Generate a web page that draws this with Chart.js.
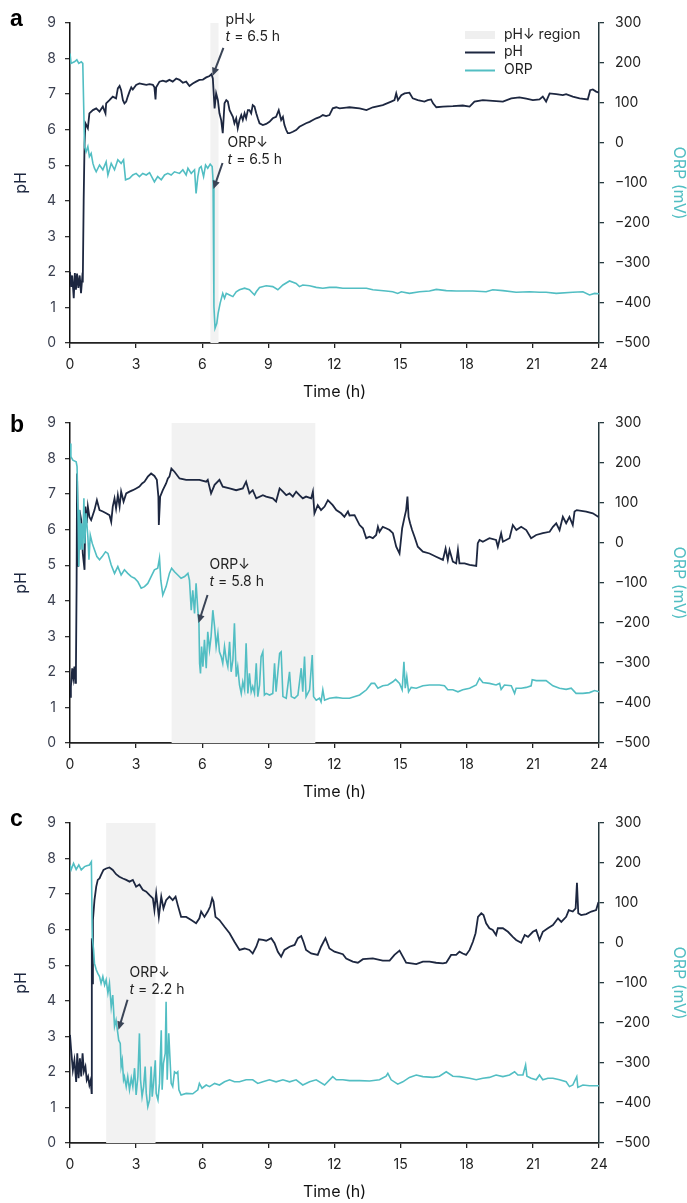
<!DOCTYPE html>
<html>
<head>
<meta charset="utf-8">
<script src="https://cdn.jsdelivr.net/npm/chart.js@4.4.0/dist/chart.umd.min.js"></script>
<style>
    body { margin: 0; background: #fff; width: 687px; height: 1203px; position: relative; }
    canvas { position: absolute; left: 0; }
</style>
</head>
<body>
<canvas id="panel-a" width="687" height="400" style="top:0"></canvas>
<canvas id="panel-b" width="687" height="400" style="top:400px"></canvas>
<canvas id="panel-c" width="687" height="400" style="top:800px"></canvas>
<script>
// [time (h), value] pairs
const aPh = [[0,2.0],[0.05,1.58],[0.1,1.9],[0.17,1.26],[0.22,1.97],[0.27,1.5],[0.32,1.95],[0.38,1.55],[0.44,1.9],[0.5,1.4],[0.55,1.8],[0.58,1.7],[0.62,4.0],[0.66,5.6],[0.7,6.18],[0.81,6.04],[0.88,6.46],[1.04,6.55],[1.19,6.6],[1.34,6.51],[1.49,6.65],[1.61,6.46],[1.64,6.74],[1.79,6.83],[1.94,6.93],[2.09,6.88],[2.17,7.16],[2.25,7.23],[2.32,7.11],[2.4,6.83],[2.47,6.74],[2.55,6.79],[2.62,6.93],[2.7,7.07],[2.78,7.19],[2.85,7.13],[3.0,7.26],[3.15,7.3],[3.3,7.28],[3.46,7.26],[3.61,7.28],[3.76,7.26],[3.83,7.19],[3.88,6.85],[3.91,7.19],[4.06,7.35],[4.21,7.38],[4.36,7.35],[4.51,7.4],[4.66,7.35],[4.82,7.44],[4.97,7.4],[5.12,7.32],[5.27,7.35],[5.42,7.23],[5.57,7.3],[5.72,7.35],[5.87,7.4],[6.03,7.41],[6.18,7.47],[6.33,7.51],[6.42,7.56],[6.48,7.44],[6.56,6.6],[6.63,7.02],[6.71,6.83],[6.78,6.46],[6.86,6.27],[6.93,5.9],[7.01,6.74],[7.09,6.83],[7.16,6.79],[7.24,6.55],[7.39,6.36],[7.46,6.18],[7.54,6.32],[7.61,6.04],[7.69,6.27],[7.77,6.41],[7.84,6.27],[7.92,6.46],[7.99,6.32],[8.07,6.55],[8.14,6.55],[8.22,6.46],[8.29,6.69],[8.37,6.65],[8.45,6.46],[8.52,6.32],[8.6,6.18],[8.75,6.13],[8.9,6.16],[9.05,6.22],[9.2,6.32],[9.35,6.36],[9.47,6.55],[9.58,6.27],[9.66,6.36],[9.73,6.13],[9.81,5.99],[9.88,5.9],[9.96,5.9],[10.11,5.94],[10.26,5.99],[10.41,6.08],[10.56,6.13],[10.71,6.18],[10.87,6.22],[11.02,6.27],[11.17,6.32],[11.32,6.35],[11.47,6.41],[11.62,6.38],[11.77,6.41],[11.92,6.6],[12.08,6.63],[12.23,6.6],[12.53,6.62],[12.68,6.63],[13.14,6.6],[13.45,6.55],[13.74,6.63],[14.19,6.69],[14.57,6.79],[14.72,6.83],[14.8,7.02],[14.88,6.83],[15.03,6.97],[15.18,7.02],[15.4,7.04],[15.55,6.88],[15.78,6.83],[16.08,6.79],[16.23,6.83],[16.38,6.85],[16.47,6.74],[16.62,6.63],[16.92,6.65],[17.37,6.66],[17.82,6.68],[18.13,6.65],[18.35,6.79],[18.73,6.83],[19.18,6.81],[19.64,6.79],[20.02,6.88],[20.39,6.91],[20.7,6.87],[21.0,6.83],[21.3,6.85],[21.45,6.93],[21.6,6.79],[21.76,7.02],[22.06,7.0],[22.36,6.97],[22.51,7.0],[22.81,6.93],[23.12,6.88],[23.49,6.85],[23.6,7.11],[23.72,7.13],[23.87,7.07],[24.0,7.04]];

const aOrp = [[0,224],[0.05,199],[0.2,203],[0.31,208],[0.4,199],[0.51,203],[0.58,199],[0.66,-9],[0.73,-22],[0.81,-9],[0.88,-34],[0.96,-26],[1.04,-51],[1.11,-63],[1.19,-72],[1.34,-55],[1.49,-67],[1.64,-47],[1.72,-80],[1.87,-51],[2.02,-67],[2.17,-42],[2.32,-51],[2.43,-42],[2.52,-92],[2.7,-88],[2.85,-80],[3.0,-76],[3.15,-84],[3.3,-76],[3.46,-80],[3.61,-74],[3.83,-97],[3.98,-84],[4.14,-92],[4.29,-80],[4.44,-76],[4.59,-80],[4.74,-72],[4.97,-76],[5.12,-67],[5.27,-80],[5.35,-63],[5.5,-76],[5.65,-67],[5.72,-126],[5.8,-84],[5.87,-63],[5.95,-59],[6.06,-84],[6.15,-55],[6.25,-63],[6.36,-53],[6.45,-59],[6.49,-92],[6.53,-409],[6.58,-463],[6.66,-451],[6.72,-426],[6.81,-401],[6.93,-376],[7.01,-388],[7.09,-376],[7.24,-380],[7.39,-384],[7.54,-372],[7.69,-367],[7.92,-363],[8.14,-367],[8.37,-380],[8.45,-372],[8.6,-361],[8.9,-357],[9.2,-359],[9.43,-367],[9.66,-355],[9.96,-345],[10.26,-351],[10.41,-359],[10.56,-355],[10.87,-357],[11.17,-361],[11.47,-363],[11.77,-361],[12.08,-361],[12.38,-363],[12.68,-363],[13.45,-363],[13.74,-367],[14.34,-370],[14.64,-372],[14.87,-376],[15.03,-372],[15.4,-376],[15.86,-372],[16.31,-370],[16.62,-366],[17.07,-369],[17.52,-370],[18.28,-370],[18.88,-372],[19.18,-367],[19.64,-369],[20.24,-373],[20.85,-372],[21.3,-373],[21.6,-373],[22.06,-376],[22.81,-373],[23.27,-372],[23.57,-380],[23.8,-376],[24.0,-377]];

const bPh = [[0,1.3],[0.04,1.58],[0.1,2.1],[0.15,1.83],[0.2,2.15],[0.24,1.69],[0.27,2.1],[0.3,4.5],[0.32,7.58],[0.37,4.96],[0.43,6.55],[0.51,6.27],[0.58,5.33],[0.66,4.87],[0.7,6.65],[0.76,6.18],[0.81,6.65],[0.88,6.36],[0.96,6.27],[1.11,6.55],[1.22,6.83],[1.34,6.55],[1.49,6.51],[1.64,6.46],[1.79,6.41],[1.87,6.22],[1.94,6.65],[2.02,6.88],[2.09,6.6],[2.17,6.97],[2.25,6.65],[2.32,7.07],[2.43,6.79],[2.55,7.02],[2.7,7.07],[2.85,7.11],[3.0,7.16],[3.15,7.21],[3.27,7.3],[3.38,7.35],[3.53,7.49],[3.68,7.58],[3.83,7.51],[3.94,7.4],[4.01,6.93],[4.03,6.13],[4.09,6.93],[4.21,7.11],[4.36,7.3],[4.44,7.44],[4.51,7.49],[4.6,7.72],[4.74,7.63],[4.97,7.44],[5.27,7.4],[5.57,7.4],[5.87,7.4],[6.18,7.35],[6.25,7.4],[6.4,7.02],[6.56,7.26],[6.78,7.4],[6.93,7.21],[7.24,7.16],[7.54,7.11],[7.84,7.16],[7.99,7.35],[8.14,7.02],[8.29,7.11],[8.45,6.88],[8.75,6.97],[8.9,6.93],[9.2,6.88],[9.35,6.79],[9.51,7.16],[9.66,7.07],[9.81,6.97],[9.96,7.02],[10.11,6.93],[10.26,7.07],[10.41,6.97],[10.56,6.88],[10.71,6.93],[10.94,6.88],[11.02,7.07],[11.09,6.46],[11.24,6.69],[11.39,6.55],[11.55,6.65],[11.7,6.83],[11.92,6.69],[12.08,6.55],[12.3,6.46],[12.45,6.36],[12.61,6.51],[12.68,6.4],[12.91,6.41],[13.14,6.13],[13.29,6.04],[13.44,5.76],[13.59,5.8],[13.74,5.76],[13.89,5.85],[13.97,6.08],[14.04,5.94],[14.19,6.08],[14.34,6.04],[14.5,5.99],[14.65,5.9],[14.8,5.52],[14.95,5.33],[15.07,6.04],[15.18,6.36],[15.25,6.55],[15.31,6.93],[15.36,6.36],[15.43,6.18],[15.52,5.99],[15.63,5.8],[15.78,5.52],[16.01,5.38],[16.31,5.33],[16.61,5.24],[16.92,5.15],[17.04,5.47],[17.14,5.15],[17.22,5.43],[17.37,5.1],[17.52,5.05],[17.6,5.43],[17.67,5.05],[17.9,5.05],[18.13,5.01],[18.43,4.98],[18.5,5.62],[18.58,5.71],[18.73,5.66],[19.03,5.76],[19.33,5.71],[19.41,5.52],[19.56,5.9],[19.64,5.66],[19.94,5.76],[20.09,6.13],[20.25,5.99],[20.47,6.08],[20.7,5.99],[20.92,5.76],[21.15,5.85],[21.45,5.9],[21.76,5.94],[21.91,6.08],[22.06,6.18],[22.21,5.99],[22.36,6.36],[22.51,6.18],[22.66,6.36],[22.81,6.13],[22.89,6.51],[22.99,6.55],[23.42,6.51],[23.72,6.46],[24.0,6.35]];

const bOrp = [[0,249],[0.04,216],[0.13,207],[0.28,203],[0.32,191],[0.37,57],[0.4,-59],[0.43,83],[0.48,-17],[0.52,49],[0.58,-17],[0.63,112],[0.67,-1],[0.73,74],[0.81,16],[0.86,-42],[0.92,20],[1.01,-1],[1.11,-17],[1.22,-34],[1.34,-42],[1.46,-34],[1.61,-22],[1.72,-26],[1.87,-55],[2.02,-76],[2.17,-59],[2.32,-80],[2.47,-67],[2.62,-76],[2.78,-84],[2.93,-88],[3.08,-97],[3.23,-113],[3.38,-109],[3.53,-101],[3.68,-84],[3.83,-67],[3.98,-63],[4.06,-38],[4.12,-93],[4.21,-130],[4.36,-109],[4.51,-76],[4.61,-63],[4.74,-72],[4.89,-80],[5.04,-88],[5.2,-84],[5.35,-76],[5.42,-93],[5.5,-168],[5.57,-118],[5.65,-176],[5.72,-101],[5.8,-168],[5.85,-201],[5.88,-301],[5.92,-326],[5.97,-259],[6.03,-309],[6.1,-242],[6.18,-313],[6.25,-222],[6.33,-267],[6.4,-234],[6.48,-168],[6.56,-209],[6.63,-259],[6.71,-226],[6.78,-272],[6.86,-284],[6.93,-301],[7.01,-259],[7.09,-292],[7.16,-309],[7.24,-247],[7.31,-322],[7.39,-292],[7.46,-201],[7.54,-334],[7.61,-309],[7.69,-355],[7.77,-376],[7.84,-347],[7.92,-367],[7.99,-251],[8.07,-376],[8.14,-326],[8.22,-372],[8.29,-359],[8.37,-376],[8.45,-301],[8.52,-384],[8.6,-355],[8.67,-284],[8.75,-272],[8.82,-380],[8.9,-376],[9.05,-380],[9.2,-376],[9.28,-301],[9.35,-372],[9.51,-276],[9.58,-272],[9.66,-384],[9.81,-388],[9.96,-322],[10.04,-384],[10.19,-388],[10.34,-380],[10.49,-313],[10.56,-372],[10.64,-284],[10.71,-384],[10.87,-367],[10.99,-280],[11.05,-384],[11.17,-393],[11.32,-388],[11.39,-397],[11.47,-367],[11.55,-393],[11.77,-388],[12.08,-386],[12.38,-388],[12.68,-388],[13.14,-380],[13.45,-367],[13.67,-351],[13.82,-351],[13.97,-363],[14.19,-357],[14.42,-355],[14.65,-347],[14.77,-341],[14.95,-351],[15.07,-367],[15.15,-297],[15.21,-363],[15.28,-334],[15.36,-372],[15.48,-361],[15.71,-363],[16.01,-357],[16.31,-355],[16.76,-355],[16.99,-357],[17.14,-367],[17.37,-367],[17.6,-372],[17.82,-367],[18.13,-363],[18.43,-355],[18.58,-338],[18.73,-349],[19.03,-351],[19.33,-355],[19.49,-351],[19.56,-366],[19.71,-355],[20.02,-357],[20.17,-376],[20.24,-363],[20.47,-363],[20.7,-361],[20.92,-357],[20.97,-342],[21.15,-344],[21.6,-344],[21.91,-357],[22.21,-363],[22.51,-366],[22.74,-363],[22.96,-376],[23.27,-376],[23.57,-374],[23.8,-369],[24.0,-372]];

const cPh = [[0,3.04],[0.05,2.62],[0.13,2.05],[0.2,2.33],[0.28,1.72],[0.33,2.52],[0.39,1.82],[0.45,2.38],[0.51,1.87],[0.57,2.52],[0.63,2.01],[0.7,2.15],[0.76,1.77],[0.82,1.87],[0.88,1.63],[0.94,1.77],[0.98,1.4],[0.99,5.76],[1.0,4.49],[1.04,6.27],[1.11,6.83],[1.19,7.21],[1.26,7.4],[1.34,7.44],[1.41,7.54],[1.52,7.68],[1.64,7.72],[1.79,7.75],[1.94,7.68],[2.09,7.56],[2.24,7.49],[2.4,7.44],[2.55,7.4],[2.7,7.35],[2.85,7.4],[3.0,7.21],[3.15,7.27],[3.3,7.12],[3.46,7.07],[3.61,6.97],[3.76,6.88],[3.83,6.55],[3.91,7.02],[4.03,6.36],[4.14,6.93],[4.24,6.6],[4.36,6.83],[4.51,6.93],[4.66,6.83],[4.79,6.93],[4.89,6.69],[5.04,6.36],[5.27,6.36],[5.5,6.27],[5.72,6.18],[5.87,6.32],[5.95,6.51],[6.1,6.36],[6.25,6.51],[6.36,6.65],[6.45,6.88],[6.51,6.79],[6.6,6.36],[6.78,6.27],[7.01,6.08],[7.24,5.9],[7.46,5.66],[7.69,5.43],[7.92,5.47],[8.14,5.43],[8.29,5.33],[8.45,5.52],[8.57,5.73],[8.75,5.71],[8.9,5.69],[9.13,5.76],[9.28,5.62],[9.43,5.38],[9.58,5.24],[9.73,5.43],[9.96,5.52],[10.19,5.57],[10.34,5.76],[10.49,5.82],[10.59,5.66],[10.71,5.43],[10.94,5.33],[11.24,5.29],[11.39,5.52],[11.59,5.76],[11.77,5.47],[12.0,5.38],[12.38,5.31],[12.53,5.19],[12.83,5.1],[13.06,5.07],[13.29,5.17],[13.74,5.19],[14.19,5.13],[14.5,5.13],[14.72,5.29],[14.95,5.41],[15.1,5.24],[15.25,5.07],[15.48,5.05],[15.71,5.03],[16.01,5.1],[16.31,5.1],[16.61,5.07],[16.92,5.05],[17.07,5.07],[17.29,5.29],[17.52,5.29],[17.67,5.38],[17.82,5.33],[17.97,5.29],[18.13,5.43],[18.28,5.66],[18.4,5.9],[18.51,6.36],[18.66,6.46],[18.76,6.41],[18.88,6.18],[19.03,6.04],[19.18,5.99],[19.33,5.85],[19.41,6.04],[19.64,6.04],[19.87,5.94],[20.09,5.8],[20.24,5.71],[20.47,5.63],[20.63,5.85],[20.78,5.8],[21.0,5.94],[21.15,5.99],[21.3,5.71],[21.45,5.94],[21.68,6.04],[21.91,6.13],[22.14,6.32],[22.29,6.22],[22.51,6.36],[22.63,6.55],[22.81,6.51],[22.94,6.6],[23.0,7.32],[23.06,6.46],[23.19,6.41],[23.42,6.44],[23.65,6.51],[23.87,6.55],[23.96,6.74],[24.0,6.72]];

const cOrp = [[0,195],[0.05,183],[0.16,199],[0.28,184],[0.4,195],[0.51,183],[0.66,191],[0.76,193],[0.88,195],[0.97,203],[1.01,16],[1.07,-17],[1.11,-51],[1.19,-67],[1.26,-76],[1.34,-84],[1.41,-101],[1.49,-84],[1.57,-105],[1.64,-92],[1.72,-125],[1.79,-101],[1.87,-160],[1.94,-130],[2.02,-209],[2.09,-193],[2.17,-226],[2.21,-243],[2.28,-251],[2.32,-309],[2.37,-293],[2.43,-342],[2.47,-334],[2.55,-359],[2.62,-334],[2.7,-367],[2.78,-338],[2.85,-359],[2.93,-313],[3.0,-380],[3.08,-334],[3.15,-226],[3.2,-342],[3.27,-384],[3.34,-359],[3.41,-309],[3.46,-376],[3.53,-409],[3.61,-392],[3.68,-309],[3.73,-384],[3.79,-351],[3.87,-293],[3.91,-376],[3.99,-392],[4.06,-351],[4.14,-218],[4.18,-367],[4.24,-301],[4.32,-276],[4.36,-147],[4.41,-342],[4.48,-226],[4.54,-293],[4.59,-351],[4.66,-359],[4.74,-322],[4.82,-326],[4.89,-322],[4.94,-367],[5.04,-380],[5.27,-376],[5.57,-377],[5.8,-367],[5.87,-351],[5.99,-363],[6.18,-355],[6.33,-359],[6.56,-351],[6.78,-355],[7.01,-347],[7.24,-342],[7.46,-347],[7.69,-347],[7.99,-342],[8.29,-342],[8.52,-351],[8.75,-347],[9.05,-342],[9.35,-347],[9.66,-342],[9.96,-347],[10.26,-342],[10.56,-355],[10.87,-347],[11.17,-342],[11.55,-355],[11.92,-334],[12.08,-342],[12.38,-342],[12.68,-344],[13.14,-344],[13.59,-345],[14.04,-342],[14.34,-333],[14.42,-326],[14.57,-342],[14.87,-353],[15.1,-347],[15.4,-336],[15.71,-330],[16.01,-334],[16.47,-336],[16.76,-333],[17.07,-322],[17.37,-333],[17.67,-334],[18.13,-338],[18.43,-342],[18.73,-338],[19.03,-336],[19.33,-330],[19.64,-334],[19.94,-330],[20.17,-322],[20.32,-330],[20.55,-330],[20.67,-305],[20.73,-333],[20.92,-338],[21.15,-342],[21.3,-330],[21.45,-342],[21.68,-338],[21.91,-338],[22.21,-342],[22.51,-347],[22.66,-359],[22.81,-355],[22.99,-334],[23.04,-361],[23.27,-355],[23.57,-357],[24.0,-357]];

// pH-drop shaded region per panel (start, end in h)
const regionStart = [6.37, 4.61, 1.64];
const regionEnd = [6.74, 11.13, 3.88];

const FONT = 'Inter, "Noto Sans", sans-serif';
const PH_COLOR = '#1d2740';
const ORP_COLOR = '#52bec3';
const ARROW_COLOR = '#3a4456';
const SHADE = '#f2f2f2';

Chart.defaults.font.family = FONT;
Chart.defaults.animation = false;

const toXY = arr => arr.map(p => ({ x: p[0], y: p[1] }));

function drawNote(ctx, chart, note) {
    const xs = chart.scales.x;
    const ys = chart.scales[note.axis];
    const tx = xs.getPixelForValue(note.tail[0]), ty = ys.getPixelForValue(note.tail[1]);
    const hx = xs.getPixelForValue(note.tip[0]), hy = ys.getPixelForValue(note.tip[1]);
    const ang = Math.atan2(hy - ty, hx - tx);
    const head = 9;

    ctx.save();
    ctx.strokeStyle = ARROW_COLOR;
    ctx.fillStyle = ARROW_COLOR;
    ctx.lineWidth = 2;
    ctx.beginPath();
    ctx.moveTo(tx, ty);
    ctx.lineTo(hx - head * 0.7 * Math.cos(ang), hy - head * 0.7 * Math.sin(ang));
    ctx.stroke();
    ctx.beginPath();
    ctx.moveTo(hx, hy);
    ctx.lineTo(hx - head * Math.cos(ang - 0.42), hy - head * Math.sin(ang - 0.42));
    ctx.lineTo(hx - head * Math.cos(ang + 0.42), hy - head * Math.sin(ang + 0.42));
    ctx.closePath();
    ctx.fill();

    // two-line label, italic t
    const lx = xs.getPixelForValue(note.label[0]);
    const ly = ys.getPixelForValue(note.label[1]);
    ctx.fillStyle = '#222';
    ctx.textAlign = 'left';
    ctx.textBaseline = 'middle';
    ctx.font = '14px ' + FONT;
    ctx.fillText(note.title, lx, ly);
    ctx.font = 'italic 14px ' + FONT;
    ctx.fillText('t', lx, ly + 17);
    const w = ctx.measureText('t').width;
    ctx.font = '14px ' + FONT;
    ctx.fillText(' = ' + note.time + ' h', lx + w, ly + 17);
    ctx.restore();
}

function drawLegend(ctx) {
    ctx.save();
    ctx.fillStyle = '#efefef';
    ctx.fillRect(465, 31, 30, 8);
    ctx.lineWidth = 2;
    ctx.strokeStyle = PH_COLOR;
    ctx.beginPath(); ctx.moveTo(465, 52.5); ctx.lineTo(495, 52.5); ctx.stroke();
    ctx.strokeStyle = ORP_COLOR;
    ctx.beginPath(); ctx.moveTo(465, 70.5); ctx.lineTo(495, 70.5); ctx.stroke();
    ctx.fillStyle = '#222';
    ctx.font = '14px ' + FONT;
    ctx.textBaseline = 'middle';
    ctx.fillText('pH\u2193 region', 504, 35);
    ctx.fillText('pH', 504, 52);
    ctx.fillText('ORP', 504, 70);
    ctx.restore();
}

function makePanel(id, idx, letter, letterY, ph, orp, notes, legend) {
    const ctx = document.getElementById(id).getContext('2d');

    const decor = {
        id: 'decor',
        beforeDatasetsDraw(chart) {
            const c = chart.ctx, area = chart.chartArea, xs = chart.scales.x;
            const x0 = xs.getPixelForValue(regionStart[idx]);
            const x1 = xs.getPixelForValue(regionEnd[idx]);
            c.save();
            c.fillStyle = SHADE;
            c.fillRect(x0, area.top, x1 - x0, area.bottom - area.top);
            c.restore();
        },
        afterDraw(chart) {
            const c = chart.ctx;
            c.save();
            c.fillStyle = '#000';
            c.font = 'bold 23px "Liberation Sans", Arial, sans-serif';
            c.textBaseline = 'alphabetic';
            c.fillText(letter, 10, letterY);
            c.restore();
            notes.forEach(n => drawNote(c, chart, n));
            if (legend) drawLegend(c);
        }
    };

    return new Chart(ctx, {
        type: 'line',
        data: {
            datasets: [
                {
                    label: 'ORP',
                    data: toXY(orp),
                    yAxisID: 'y2',
                    borderColor: ORP_COLOR,
                    borderWidth: 1.6,
                    pointRadius: 0,
                    tension: 0,
                },
                {
                    label: 'pH',
                    data: toXY(ph),
                    yAxisID: 'y',
                    borderColor: PH_COLOR,
                    borderWidth: 1.8,
                    pointRadius: 0,
                    tension: 0,
                }
            ]
        },
        options: {
            responsive: false,
            layout: { padding: { top: 23, left: 0, right: 0, bottom: 0 } },
            scales: {
                x: {
                    type: 'linear',
                    min: 0,
                    max: 24,
                    ticks: {
                        stepSize: 3,
                        color: '#222',
                        font: { size: 14 },
                        padding: 8,
                        maxRotation: 0,
                    },
                    grid: {
                        drawOnChartArea: false,
                        drawTicks: true,
                        tickLength: 5,
                        color: '#222',
                        lineWidth: 1.3,
                    },
                    border: { display: true, color: '#222', width: 1.7 },
                    title: {
                        display: true,
                        text: 'Time (h)',
                        color: '#111',
                        font: { size: 16, lineHeight: 1 },
                        padding: { top: 0, bottom: 0 },
                    },
                    afterFit: s => { s.height = 57; }
                },
                y: {
                    position: 'left',
                    min: 0,
                    max: 9,
                    ticks: {
                        stepSize: 1,
                        color: '#3b4050',
                        font: { size: 14 },
                        padding: 9,
                    },
                    grid: {
                        drawOnChartArea: false,
                        drawTicks: true,
                        tickLength: 5,
                        color: '#333',
                        lineWidth: 1.3,
                    },
                    border: { display: true, color: '#111', width: 1.5 },
                    title: {
                        display: true,
                        text: 'pH',
                        color: PH_COLOR,
                        font: { size: 16, lineHeight: 1.2 },
                        padding: { top: 12, bottom: 0 },
                    },
                    afterFit: s => { s.width = 70; }
                },
                y2: {
                    position: 'right',
                    min: -500,
                    max: 300,
                    ticks: {
                        stepSize: 100,
                        color: '#222',
                        font: { size: 14 },
                        padding: 11,
                        callback: v => String(v).replace('-', '\u2212'),
                    },
                    grid: {
                        drawOnChartArea: false,
                        drawTicks: true,
                        tickLength: 5,
                        color: '#24383d',
                        lineWidth: 1.3,
                    },
                    border: { display: true, color: '#24383d', width: 1.5 },
                    title: {
                        display: true,
                        text: 'ORP (mV)',
                        color: ORP_COLOR,
                        font: { size: 16, lineHeight: 1 },
                        padding: { top: 0, bottom: 0 },
                    },
                    afterFit: s => { s.width = 88; }
                }
            },
            plugins: {
                legend: { display: false },
                tooltip: { enabled: false },
            }
        },
        plugins: [decor]
    });
}

//! a
makePanel('panel-a', 0, 'a', 26, aPh, aOrp, [
    { axis: 'y', title: 'pH\u2193', time: '6.5', label: [7.06, 9.08], tail: [6.96, 8.30], tip: [6.47, 7.51] },
    { axis: 'y2', title: 'ORP\u2193', time: '6.5', label: [7.15, 0], tail: [6.92, -50], tip: [6.51, -115] },
], true);

//! b
makePanel('panel-b', 1, 'b', 32, bPh, bOrp, [
    { axis: 'y2', title: 'ORP\u2193', time: '5.8', label: [6.33, -55], tail: [6.24, -130], tip: [5.83, -200] },
], false);

//! c
makePanel('panel-c', 2, 'c', 26, cPh, cOrp, [
    { axis: 'y2', title: 'ORP\u2193', time: '2.2', label: [2.70, -75], tail: [2.61, -142], tip: [2.20, -217] },
], false);
</script>
</body>
</html>
